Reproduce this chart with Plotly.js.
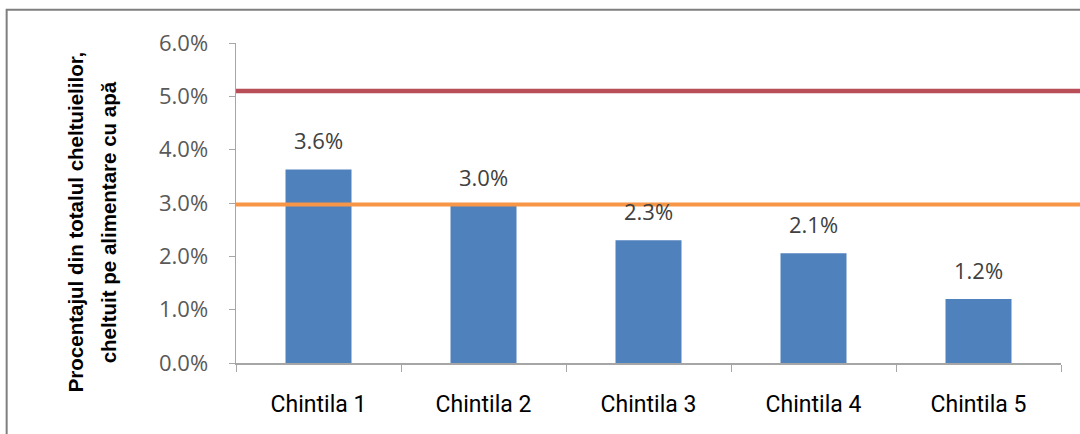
<!DOCTYPE html>
<html>
<head>
<meta charset="utf-8">
<script src="https://cdn.plot.ly/plotly-3.0.1.min.js"></script>
<style>
html,body{margin:0;padding:0;background:#fff;}
#chart{width:1080px;height:434px;}
</style>
</head>
<body>
<div id="chart"></div>
<script>
// Data
const categories = ["Chintila 1", "Chintila 2", "Chintila 3", "Chintila 4", "Chintila 5"];
const shareValues = [3.63, 2.95, 2.3, 2.06, 1.2];
const shareLabels = ["3.6%", "3.0%", "2.3%", "2.1%", "1.2%"];
const upperThreshold = [5.1];
const lowerThreshold = [2.97];
const yTickValues = [0, 1, 2, 3, 4, 5, 6];
const yTickLabels = ["0.0%", "1.0%", "2.0%", "3.0%", "4.0%", "5.0%", "6.0%"];
const yTitleLines = ["Procentajul din totalul cheltuielilor,", "cheltuit pe alimentare cu apă"];

const bars = {
  type: "bar",
  x: categories,
  y: shareValues,
  marker: {color: "#4F81BD"},
  hoverinfo: "x+y"
};

const annotations = categories.map((c, i) => ({
  x: c, y: shareValues[i], xref: "x", yref: "y",
  text: shareLabels[i], showarrow: false,
  yanchor: "bottom", yshift: 12,
  font: {family: "Open Sans, Liberation Sans, sans-serif", size: 22, color: "#404040"}
}));

const titleX = [-0.195, -0.155];
yTitleLines.forEach((t, i) => {
  annotations.push({
    xref: "paper", yref: "paper", x: titleX[i], y: 0.44,
    text: "<b>" + t + "</b>",
    showarrow: false, textangle: -90,
    xanchor: "center", yanchor: "middle",
    font: {family: "Liberation Sans, Arial, sans-serif", size: 20.5, color: "#000"}
  });
});

const shapes = [
  {type: "line", xref: "paper", yref: "y", x0: 0, x1: 1.03, y0: upperThreshold[0], y1: upperThreshold[0],
   line: {color: "#B94E58", width: 4.5}, layer: "above"},
  {type: "line", xref: "paper", yref: "y", x0: 0, x1: 1.03, y0: lowerThreshold[0], y1: lowerThreshold[0],
   line: {color: "#F79646", width: 4}, layer: "above"},
  {type: "rect", xref: "paper", yref: "paper", x0: -0.278, x1: 1.06, y0: -0.35, y1: 1.104,
   line: {color: "#7F7F7F", width: 2}, layer: "below"}
];

const layout = {
  width: 1080, height: 434,
  margin: {l: 236, r: 19, t: 43, b: 71},
  paper_bgcolor: "#fff", plot_bgcolor: "#fff",
  showlegend: false,
  bargap: 0.6,
  xaxis: {
    type: "category",
    showline: true, linecolor: "#A6A6A6", linewidth: 1.5,
    ticks: "outside", tickson: "boundaries", ticklen: 7, tickcolor: "#A6A6A6",
    ticklabelstandoff: 20,
    tickfont: {family: "Roboto, Liberation Sans, sans-serif", size: 23, color: "#000"},
    showgrid: false, zeroline: false
  },
  yaxis: {
    range: [0, 6],
    tickvals: yTickValues, ticktext: yTickLabels,
    showline: true, linecolor: "#A6A6A6", linewidth: 1.5,
    ticks: "outside", ticklen: 6, tickcolor: "#A6A6A6",
    ticklabelstandoff: 16,
    tickfont: {family: "Open Sans, Liberation Sans, sans-serif", size: 22, color: "#595959"},
    showgrid: false, zeroline: false
  },
  annotations: annotations,
  shapes: shapes
};

Plotly.newPlot("chart", [bars], layout, {displayModeBar: false, staticPlot: true});
</script>
</body>
</html>
